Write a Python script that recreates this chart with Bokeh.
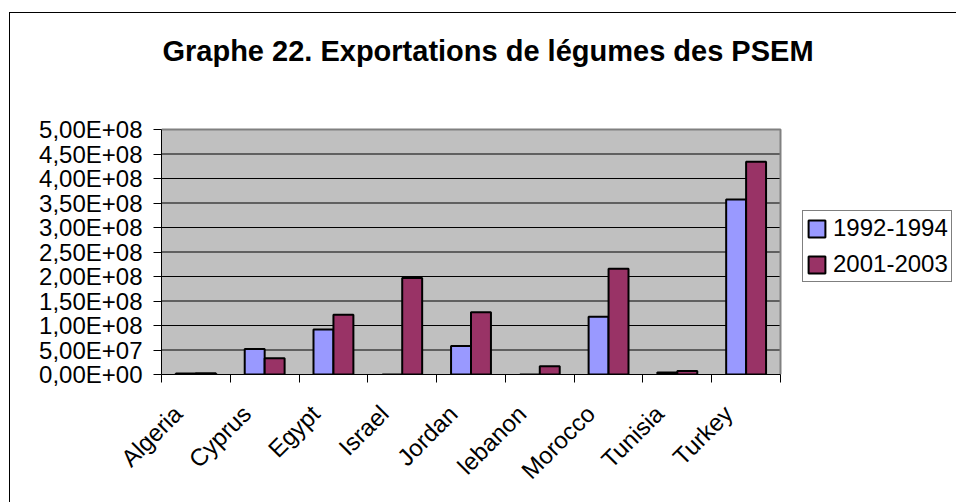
import numpy as np
from bokeh.plotting import figure
from bokeh.models import (ColumnDataSource, Range1d, FixedTicker, Legend,
                          LegendItem, Label)
from bokeh.embed import file_html
from bokeh.resources import INLINE

# ---- data ----
title_text = "Graphe 22. Exportations de légumes des PSEM"
categories = ["Algeria", "Cyprus", "Egypt", "Israel", "Jordan", "lebanon",
              "Morocco", "Tunisia", "Turkey"]
series_names = ["1992-1994", "2001-2003"]
values_1992_1994 = [2.0e6, 5.2e7, 9.2e7, 0.0, 5.8e7, 0.0, 1.18e8, 4.0e6, 3.57e8]
values_2001_2003 = [2.5e6, 3.3e7, 1.22e8, 1.97e8, 1.27e8, 1.7e7, 2.16e8, 7.0e6, 4.34e8]
y_ticks = [0, 5e7, 1e8, 1.5e8, 2e8, 2.5e8, 3e8, 3.5e8, 4e8, 4.5e8, 5e8]
y_tick_labels = ["0,00E+00", "5,00E+07", "1,00E+08", "1,50E+08", "2,00E+08",
                 "2,50E+08", "3,00E+08", "3,50E+08", "4,00E+08", "4,50E+08",
                 "5,00E+08"]
colors = ["#9999FF", "#993366"]

# ---- layout constants (pixels) ----
FONT = "Liberation Sans"
PLOT_W = 619          # grey plot area width
PLOT_H = 245          # grey plot area height
FRAME_W = 795         # frame reaches the right edge (room for the legend)
FRAME_H = 361         # frame reaches the top edge (room for the title)
TITLE_CX = 326.5      # title centre, px right of plot-area left edge
TITLE_BASE = 324      # title baseline, px above plot-area bottom

n = len(categories)
x_end = n * FRAME_W / PLOT_W
y_end = y_ticks[-1] * FRAME_H / PLOT_H
centers = (np.arange(n) + 0.5).tolist()
label_pos = [round(c - 0.26, 4) for c in centers]
bar_w = 0.29

src = ColumnDataSource(dict(
    xa=[c - bar_w / 2 for c in centers],
    xb=[c + bar_w / 2 for c in centers],
    a=values_1992_1994,
    b=values_2001_2003,
))

p = figure(frame_width=FRAME_W, frame_height=FRAME_H, output_backend="svg",
           toolbar_location=None,
           x_range=Range1d(0, x_end), y_range=Range1d(0, y_end),
           min_border_left=151, min_border_right=0,
           min_border_top=0, min_border_bottom=128)

p.styles = {"margin-left": "9px", "margin-top": "12px",
            "border-left": "1px solid black", "border-top": "1px solid black"}

p.background_fill_color = "white"
p.border_fill_color = "white"
p.outline_line_color = None

# grey plot area, grid lines, border
p.quad(left=0, right=n, bottom=y_ticks[0], top=y_ticks[-1],
       fill_color="#C0C0C0", line_color=None)
p.segment(x0=0, x1=n, y0=y_ticks[1:-1], y1=y_ticks[1:-1],
          line_color="black", line_width=1)
p.line(x=[0, n, n], y=[y_ticks[-1], y_ticks[-1], y_ticks[0]],
       line_color="#808080", line_width=2)

r1 = p.vbar(x="xa", top="a", width=bar_w, source=src, fill_color=colors[0],
            line_color="black", line_width=2)
r2 = p.vbar(x="xb", top="b", width=bar_w, source=src, fill_color=colors[1],
            line_color="black", line_width=2)

# title
p.add_layout(Label(x=n * TITLE_CX / PLOT_W, y=y_ticks[-1] * TITLE_BASE / PLOT_H,
                   text=title_text, text_font=FONT, text_font_size="29px",
                   text_font_style="bold", text_color="black",
                   text_align="center", text_baseline="alphabetic"))

# y axis
yt = FixedTicker(ticks=y_ticks)
ya = p.yaxis[0]
ya.ticker = yt
ya.bounds = (y_ticks[0], y_ticks[-1])
ya.major_label_overrides = {t: l for t, l in zip(y_ticks, y_tick_labels)}
ya.major_label_text_font = FONT
ya.major_label_text_font_size = "24px"
ya.major_label_text_color = "black"
ya.axis_line_color = "black"
ya.major_tick_line_color = "black"
ya.major_tick_out = 8
ya.major_tick_in = 0
ya.minor_tick_line_color = None
ya.major_label_standoff = 11

p.grid.visible = False

# x axis
xt = FixedTicker(ticks=label_pos, minor_ticks=list(range(n + 1)))
xa = p.xaxis[0]
xa.ticker = xt
xa.bounds = (0, n)
xa.major_label_overrides = {c: name for c, name in zip(label_pos, categories)}
xa.major_label_orientation = np.pi / 4
xa.major_label_text_font = FONT
xa.major_label_text_font_size = "24px"
xa.major_label_text_color = "black"
xa.axis_line_color = "black"
xa.major_tick_line_color = None
xa.major_tick_out = 8
xa.major_tick_in = 0
xa.minor_tick_line_color = "black"
xa.minor_tick_out = 8
xa.minor_tick_in = 0
xa.major_label_standoff = 27

legend = Legend(items=[LegendItem(label=series_names[0], renderers=[r1]),
                       LegendItem(label=series_names[1], renderers=[r2])],
                location=(641, 92))
legend.border_line_color = "black"
legend.border_line_width = 1
legend.background_fill_color = "white"
legend.background_fill_alpha = 1
legend.label_text_font = FONT
legend.label_text_font_size = "24px"
legend.label_text_color = "black"
legend.padding = 3
legend.spacing = 8
legend.margin = 0
legend.glyph_width = 21
legend.glyph_height = 21
legend.label_height = 26
legend.label_standoff = 6
p.add_layout(legend)

open("out.html", "w").write(file_html(p, INLINE))
